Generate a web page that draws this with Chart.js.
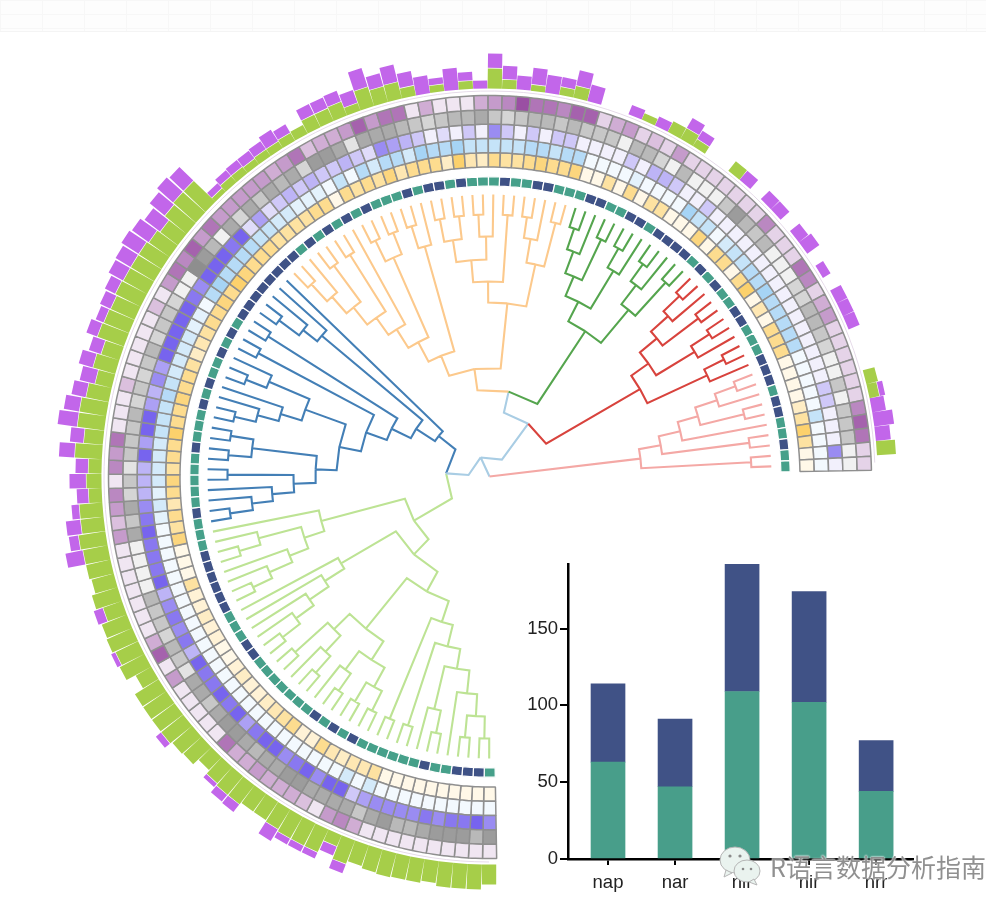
<!DOCTYPE html>
<html><head><meta charset="utf-8">
<style>
html,body{margin:0;padding:0;background:#fff;width:986px;height:910px;overflow:hidden}
canvas{position:absolute;display:block}
#topband{position:absolute;left:0;top:0;width:986px;height:31px;background-color:#fdfdfd;border-bottom:1px solid #f4f4f4;
background-image:linear-gradient(#f7f7f7 1px,transparent 1px),linear-gradient(90deg,#f7f7f7 1px,transparent 1px);background-size:42px 14px}
#wm{position:absolute;left:770px;top:849px;font:25px "Noto Sans CJK SC",sans-serif;color:rgba(125,125,125,.85);white-space:nowrap;line-height:34px;text-shadow:0 0 2px #fff,0 0 2px #fff}
#icon{position:absolute;left:719px;top:845px}
</style>
<script src="https://cdn.jsdelivr.net/npm/chart.js@4/dist/chart.umd.min.js"></script>
</head><body>
<div id="topband"></div>
<canvas id="rings" width="800" height="800" style="left:89.5px;top:76.5px;width:800px;height:800px"></canvas>
<canvas id="tree" width="986" height="910" style="left:0;top:0;width:986px;height:910px"></canvas>
<canvas id="bars" width="486" height="370" style="left:500px;top:540px;width:486px;height:370px"></canvas>
<svg id="icon" width="44" height="42" viewBox="0 0 44 42"><g fill="#eaf3ef" stroke="#b5b5b5" stroke-width="1"><ellipse cx="16" cy="15" rx="15" ry="13"/><path d="M7 25l-2 7 8-4z"/><ellipse cx="28" cy="26" rx="13" ry="11"/><path d="M35 34l3 6-8-3z"/></g><g fill="#8a8a8a"><circle cx="11" cy="11" r="1.6"/><circle cx="21" cy="11" r="1.6"/><circle cx="24" cy="24" r="1.3"/><circle cx="32" cy="24" r="1.3"/></g></svg>
<div id="wm">R语言数据分析指南</div>
<script>
// ---------- heat rings, index 0 at the east end, running counter-clockwise (levels 1-9) ----------
const ringYellow=[1,1,5,8,5,3,1,1,1,1, 6,6,6,1,4,1,8,6,1,6, 6,1,7,1,1,1,5,5,1,6, 1,5,1,1,7,6,6,7,6,5, 5,6,3,4,8,3,6,6,6,4, 7,5,6,5,6,1,6,6,5,5, 5,5,6,6,6,7,8,6,7,6, 6,5,4,3,5,6,6,7,6,6, 8,6,6,5,7,6,4,6,5,7, 1,1,1,5,2,2,3,2,2,1, 1,2,3,2,2,3,4,5,6,2, 2,6,4,3,4,4,5,1,1,1, 1,1,1,1,1,1,1];
const ringBlue=[1,1,1,1,4,1,1,1,1,1, 5,5,5,5,5,6,5,5,4,4, 3,1,4,4,6,1,1,1,1,2, 1,1,1,1,5,5,4,5,5,4, 4,4,4,4,6,5,5,6,3,5, 5,3,5,1,4,1,2,2,2,3, 3,4,4,5,5,5,5,6,5,1, 2,2,3,3,3,3,4,5,4,4, 4,3,3,3,3,2,3,2,1,1, 1,1,1,1,1,1,1,1,1,1, 1,1,1,1,1,1,1,1,1,1, 1,1,1,1,3,1,3,1,1,1, 1,1,1,1,1,1,1];
const ringViolet=[1,6,1,1,1,3,3,1,1,1, 1,1,1,1,1,1,1,1,1,1, 1,1,1,3,1,1,3,4,4,1, 3,1,1,1,1,3,3,1,3,1, 3,6,1,3,1,2,1,3,4,5, 6,2,3,4,3,3,4,3,4,3, 2,5,2,9,7,8,8,8,6,7, 8,9,8,8,8,5,6,4,5,8, 8,5,8,4,4,4,6,7,8,7, 7,7,8,4,6,7,6,7,4,8, 7,7,9,7,8,5,7,8,9,6, 7,8,6,9,9,3,5,6,6,6, 6,7,6,7,7,8,6];
const ringGray=[1,1,4,4,4,1,4,1,1,3, 4,5,5,3,3,1,1,1,5,4, 5,7,4,1,1,1,5,1,3,5, 5,1,4,4,4,5,4,5,5,4, 3,4,6,5,5,4,3,4,5,6, 6,6,2,6,7,7,3,6,5,6, 4,6,3,6,1,5,7,8,1,1, 3,4,4,3,5,4,3,4,3,5, 4,4,4,2,4,3,6,4,6,1, 1,1,1,5,4,4,3,5,4,2, 6,6,4,6,7,7,6,5,6,6, 7,7,6,6,6,6,4,6,7,5, 5,6,7,7,7,5,7];
const ringPlum=[2,2,7,8,6,2,2,2,2,2, 2,5,4,2,6,7,2,2,2,6, 2,2,2,2,2,2,2,5,2,3, 2,5,4,2,8,8,6,7,7,9, 6,5,4,1,1,1,4,1,7,7, 5,8,5,4,4,3,7,5,4,5, 5,5,5,5,7,5,8,6,7,5, 1,3,1,1,1,1,1,3,1,1, 1,7,5,6,1,6,5,3,5,1, 1,1,1,1,1,1,4,8,1,5, 1,1,1,1,1,7,4,4,5,4, 4,4,3,1,5,6,4,1,1,1, 1,1,1,1,1,1,1];
// 0 = teal, 1 = navy
const trackGroup=[0,0,1,0,0,1,1,0,1,1, 1,0,0,0,1,1,0,0,1,0, 1,0,1,1,1,1,0,1,1,0, 0,1,1,0,0,0,1,1,0,0, 1,0,0,0,1,0,1,1,0,1, 0,0,0,1,0,1,0,1,0,1, 0,1,1,1,1,1,1,1,1,0, 1,0,1,0,0,1,0,1,0,0, 0,1,0,0,0,0,0,1,0,0, 0,1,1,1,1,1,1,0,0,0, 1,1,0,0,0,0,0,0,0,1, 0,1,0,1,0,0,0,0,0,0, 1,0,0,1,1,1,0];
// ---------- outer stacked bars ----------
const barGreen=[0,19,0,0,0,10,12,0,0,0, 0,0,0,0,0,0,0,0,0,0, 0,0,0,12,0,0,8,12,12,0, 7,0,0,0,0,12,8,0,6,0, 9,20,0,8,0,7,0,10,17,16, 20,8,15,14,14,10,9,8,8,7, 8,8,5,30,30,28,22,25,27,27, 27,28,26,27,28,19,23,17,23,27, 27,19,27,13,15,13,23,23,27,25, 25,23,27,20,27,28,25,28,18,28, 28,28,28,26,25,18,22,24,24,22, 22,23,25,25,25,12,25,22,24,25, 24,24,22,25,25,25,20];
const barPurple=[0,0,15,20,14,6,0,0,0,0, 12,12,12,0,9,0,15,12,0,12, 12,0,12,0,0,0,10,12,0,10, 0,10,0,0,17,16,10,18,17,14, 14,15,8,9,22,7,18,15,18,14, 20,14,12,12,12,0,10,14,10,10, 9,8,7,20,22,20,20,21,21,18, 17,12,12,9,12,13,15,16,15,16, 20,14,16,13,17,12,8,15,10,18, 0,0,0,10,0,0,5,0,0,0, 0,0,7,0,0,0,5,9,10,0, 0,14,7,7,7,10,10,0,0,0, 0,0,0,0,0,0,0];
// ---------- dendrogram: [merge depth, child, child], 0 = a leaf ----------
const treePink=[152,[262,0,0],[174,[262,0,0],[196,0,[217,[262,0,0],[240,0,[262,0,0]]]]]];
const treeRed=[174,[240,0,[262,0,0]],[195,[240,0,[262,0,0]],[217,[262,0,0],[240,0,[262,0,0]]]]];
const treeGreen=[174,[217,[262,0,0],[241,0,[262,0,0]]],[196,[240,0,[262,0,0]],[217,[262,0,0],[240,0,[262,0,0]]]]];
const treeOrange=[108.5,
 [174,[217,[262,0,0],[241,0,[262,0,0]]],[195,[262,0,0],[217,[240,0,[262,0,0]],[239,[262,0,0],[262,0,0]]]]],
 [130,[239,0,[262,0,0]],[152,[239,[262,0,0],[262,0,0]],[174,0,[195,[262,0,0],[217,[262,0,0],[239,0,[262,0,0]]]]]]]];
const treeBlue=[65,0,[87.5,[219,0,[237,0,[262,0,0]]],[109,[262,0,0],[131,[262,0,0],
 [153,[196,[240,0,[262,0,0]],[218,0,[240,0,[262,0,0]]]],
  [174,[239,[262,0,0],[262,0,0]],[196,[262,0,0],[218,0,[239,0,[262,0,0]]]]]]]]]];
const treeLightGreen=[87.5,
 [174,0,[195,[239,0,[261,0,0]],[215,0,[240,0,[261,0,0]]]]],
 [108.5,[172,0,[195,0,[218,0,[240,0,[262,0,0]]]]],
  [131,[196,[218,[262,0,0],[240,0,[262,0,0]]],[218,[241,0,[262,0,0]],[240,[262,0,0],[262,0,0]]]],
   [153,[262,0,0],[175,[262,0,0],[195,[239,0,[262,0,0]],[218,0,[240,[262,0,0],[262,0,0]]]]]]]]];
const treeRoot=[0,treePink,[21,[65.5,treeRed,[87,treeGreen,treeOrange]],[43.5,treeBlue,treeLightGreen]]];
// ---------- inset bars ----------
const insetCategories=['nap','nar','nir','nir','nrr'];
const insetTeal=[63,47,109,102,44];
const insetNavy=[51,44,83,72,33];
const insetTicks=[0,50,100,150];

const teal='#46a08a', navy='#3f5286';
const leafCount=ringYellow.length, startDeg=1, spanDeg=270, stepDeg=spanDeg/leafCount;
const leafDepth=282, barBase=388;
const angleOf=i=>(startDeg+(i+.5)*stepDeg);
const polar=(deg,r)=>({x:r*Math.cos(deg*Math.PI/180),y:r*Math.sin(deg*Math.PI/180)});
const GAP={x:NaN,y:NaN};

// ---- rings ----
function mix(a,b,t){const p=s=>[1,3,5].map(k=>parseInt(s.substr(k,2),16));const A=p(a),B=p(b);
 return 'rgb('+A.map((v,k)=>Math.round(v+(B[k]-v)*t)).join(',')+')';}
const shade=(lo,hi,top)=>v=>mix(lo,hi,Math.min(1,(v-1)/(top||8)));
const rev=a=>a.slice().reverse();
const gapValue=leafCount*(360-spanDeg)/spanDeg;
const clear='rgba(0,0,0,0)';
function ringSet(values,colorFn,weight,line,lineW){
 return {data:values.map(()=>1).concat([gapValue]),backgroundColor:rev(values).map(colorFn).concat([clear]),
  borderColor:values.map(()=>line).concat([clear]),borderWidth:lineW,weight:weight,borderAlign:'center',hoverOffset:0};
}
const cellLine='#8f8f8f';
new Chart(document.getElementById('rings'),{type:'doughnut',
 data:{labels:rev(trackGroup).map((_,i)=>String(i)).concat(['gap']),datasets:[
  ringSet(ringPlum,shade('#f0e6f2','#9a4fa3'),14.3,cellLine,1.5),
  ringSet(ringGray,shade('#f1f1f1','#808080'),14.3,cellLine,1.5),
  ringSet(ringViolet,shade('#f2f0fc','#7764ee',7),14.3,cellLine,1.5),
  ringSet(ringBlue,shade('#f3f9fe','#78bdef'),14.3,cellLine,1.5),
  ringSet(ringYellow,shade('#fff8e8','#fbcb5a'),14.3,cellLine,1.5),
  ringSet(trackGroup,()=>clear,9.8,clear,0),
  ringSet(trackGroup,v=>v?navy:teal,9.3,'#ffffff',1.2)
 ]},
 options:{responsive:false,animation:false,rotation:179,circumference:360,radius:381.5,cutout:(290.9/381.5*100)+'%',
  layout:{padding:0},plugins:{legend:{display:false},tooltip:{enabled:false}},events:[]}});

// ---- tree + outer bars ----
let cursor=0;
const lineColors=new Map([[treePink,'#f4a8a5'],[treeRed,'#d8433d'],[treeGreen,'#55a54e'],[treeOrange,'#fcc98c'],[treeBlue,'#437fb6'],[treeLightGreen,'#bde394']]);
const rootColor='#a9cde4';
const paths={};
function place(node,color){
 const c=lineColors.get(node)||color;
 if(node===0){return {th:angleOf(cursor++),r:leafDepth,color:c};}
 const kids=node.slice(1).map(k=>place(k,c));
 const th=(kids[0].th+kids[1].th)/2, r=node[0];
 kids.forEach(k=>{(paths[k.color]=paths[k.color]||[]).push(polar(th,r),polar(k.th,r),polar(k.th,k.r),GAP);});
 return {th,r,color:c};
}
place(treeRoot,rootColor);
// the very long solid dash keeps Chart.js on its exact point-by-point path (its fast path merges nearby x pixels)
const lineSet=(pts,color,w,cap)=>({data:pts,borderColor:color,backgroundColor:color,borderWidth:w,showLine:true,pointRadius:0,borderCapStyle:cap||'butt',borderJoinStyle:'miter',borderDash:[5000,0],spanGaps:false,tension:0});
const greenPts=[],purplePts=[],guidePts=[];
barGreen.forEach((g,i)=>{const t=angleOf(i),p=barPurple[i];
 if(g>0)greenPts.push(polar(t,barBase),polar(t,barBase+g),GAP);
 if(p>0)purplePts.push(polar(t,barBase+g+(g>0?.6:0)),polar(t,barBase+g+p),GAP);
 guidePts.push(polar(t,385.5));
});
new Chart(document.getElementById('tree'),{type:'scatter',
 data:{datasets:[
  ...Object.keys(paths).map(col=>lineSet(paths[col],col,2.1)),
  lineSet(greenPts,'#a6ce49',14.3),
  lineSet(purplePts,'#c266ea',14.3),
  lineSet(guidePts,'#e6dbe9',1)
 ]},
 options:{responsive:false,animation:false,layout:{padding:0},events:[],
  plugins:{legend:{display:false},tooltip:{enabled:false}},
  scales:{x:{type:'linear',display:false,min:-489.5,max:496.5},y:{type:'linear',display:false,min:-433.5,max:476.5}}}});

// ---- inset ----
const tickFont={family:'"Liberation Sans",Arial,sans-serif',size:18.5};
new Chart(document.getElementById('bars'),{type:'bar',
 data:{datasets:[
  {data:insetTeal.map((v,i)=>({x:i,y:v})),backgroundColor:'#489e8a',barThickness:34,stack:'s'},
  {data:insetNavy.map((v,i)=>({x:i,y:v})),backgroundColor:'#405286',barThickness:34,stack:'s'}
 ]},
 options:{responsive:false,animation:false,events:[],layout:{padding:{top:24,right:73,left:0,bottom:0}},
  plugins:{legend:{display:false},tooltip:{enabled:false}},
  scales:{
   x:{type:'linear',stacked:true,offset:false,min:-0.597,max:4.55,
      afterFit(s){s.height=51;},
      border:{color:'#000',width:2.5},
      grid:{offset:false,drawOnChartArea:false,drawTicks:true,tickLength:6,color:'#000',lineWidth:2},
      ticks:{stepSize:1,includeBounds:false,font:tickFont,color:'#222',padding:7,maxRotation:0,autoSkip:false,callback:v=>insetCategories[v]}},
   y:{type:'linear',stacked:true,min:0,max:192,
      afterFit(s){s.width=68;},
      afterBuildTicks(s){s.ticks=insetTicks.map(v=>({value:v}));},
      border:{color:'#000',width:2.5},
      grid:{drawOnChartArea:false,drawTicks:true,tickLength:8,color:'#000',lineWidth:2},
      ticks:{font:tickFont,color:'#222',padding:2}}
  }}});
</script>
</body></html>
